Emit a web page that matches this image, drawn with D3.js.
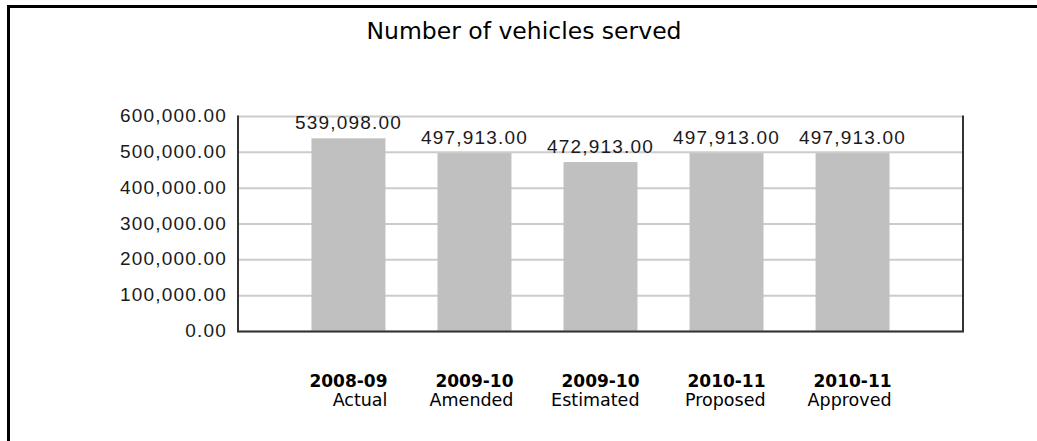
<!DOCTYPE html>
<html>
<head>
<meta charset="utf-8">
<script src="https://cdn.jsdelivr.net/npm/d3@7"></script>
<style>
  html, body { margin: 0; padding: 0; background: #fff; }
  svg { display: block; }
</style>
</head>
<body>
<svg id="chart" width="1037" height="441"></svg>
<script>
// Chart data
const title = "Number of vehicles served";
const periods = ["2008-09", "2009-10", "2009-10", "2010-11", "2010-11"];
const stages = ["Actual", "Amended", "Estimated", "Proposed", "Approved"];
const values = [539098, 497913, 472913, 497913, 497913];
const yTicks = [0, 100000, 200000, 300000, 400000, 500000, 600000];

const W = 1037, H = 441;
const plot = { left: 238, right: 963, top: 116.5, bottom: 331.5 };
const numFont = "'Liberation Sans', Arial, sans-serif";
const textFont = "'DejaVu Sans', sans-serif";

const svg = d3.select("#chart");
const keys = periods.map((p, i) => p + " " + stages[i]);

const x = d3.scaleBand()
  .domain(keys)
  .range([plot.left, plot.right])
  .paddingInner(0.413)
  .paddingOuter(0.583);

const y = d3.scaleLinear()
  .domain([0, 600000])
  .range([plot.bottom, plot.top]);

const fmt = d3.format(",.2f");

// Outer frame (left and top edges)
svg.append("path")
  .attr("d", `M8.5,${H} L8.5,6.5 L${W},6.5`)
  .attr("fill", "none")
  .attr("stroke", "#000")
  .attr("stroke-width", 3);

// Title
svg.append("text")
  .attr("x", 524)
  .attr("y", 39)
  .attr("text-anchor", "middle")
  .style("font-family", textFont)
  .style("font-size", "23.5px")
  .attr("fill", "#000")
  .text(title);

// Horizontal gridlines
svg.append("g")
  .selectAll("line")
  .data(yTicks)
  .join("line")
  .attr("x1", plot.left)
  .attr("x2", plot.right)
  .attr("y1", d => y(d))
  .attr("y2", d => y(d))
  .attr("stroke", "#cccccc")
  .attr("stroke-width", 2);

// Y axis built with d3.axisLeft, restyled
const yAxis = svg.append("g")
  .attr("transform", `translate(${plot.left},0)`)
  .call(d3.axisLeft(y).tickValues(yTicks).tickFormat(fmt).tickSize(0).tickPadding(11));
yAxis.select(".domain").remove();
yAxis.selectAll("text")
  .style("font-family", numFont)
  .style("font-size", "19px")
  .style("letter-spacing", "1.2px")
  .attr("fill", "#1a1a1a")
  .attr("dy", "5px");

// Bars
svg.append("g")
  .selectAll("rect")
  .data(values)
  .join("rect")
  .attr("x", (d, i) => x(keys[i]))
  .attr("width", x.bandwidth())
  .attr("y", d => y(d))
  .attr("height", d => y(0) - y(d))
  .attr("fill", "#c0c0c0");

// Value labels above bars
svg.append("g")
  .selectAll("text")
  .data(values)
  .join("text")
  .attr("x", (d, i) => x(keys[i]) + x.bandwidth() / 2)
  .attr("y", d => y(d) - 9)
  .attr("text-anchor", "middle")
  .style("font-family", numFont)
  .style("font-size", "19px")
  .style("letter-spacing", "1.2px")
  .attr("fill", "#1a1a1a")
  .text(d => fmt(d));

// Plot frame: left, bottom and right edges
svg.append("path")
  .attr("d", `M${plot.left},${plot.top - 1} L${plot.left},${plot.bottom} L${plot.right},${plot.bottom} L${plot.right},${plot.top - 1}`)
  .attr("fill", "none")
  .attr("stroke", "#333")
  .attr("stroke-width", 2);

// Category labels (two lines, right-aligned)
const cat = svg.append("g")
  .selectAll("g")
  .data(keys)
  .join("g")
  .attr("transform", d => `translate(${x(d) + x.bandwidth() / 2 + 39},0)`);

cat.append("text")
  .attr("y", 387)
  .attr("text-anchor", "end")
  .style("font-family", textFont)
  .style("font-weight", "bold")
  .style("font-size", "17px")
  .attr("fill", "#000")
  .text((d, i) => periods[i]);

cat.append("text")
  .attr("y", 405.5)
  .attr("text-anchor", "end")
  .style("font-family", textFont)
  .style("font-size", "17.5px")
  .attr("fill", "#000")
  .text((d, i) => stages[i]);
</script>
</body>
</html>
